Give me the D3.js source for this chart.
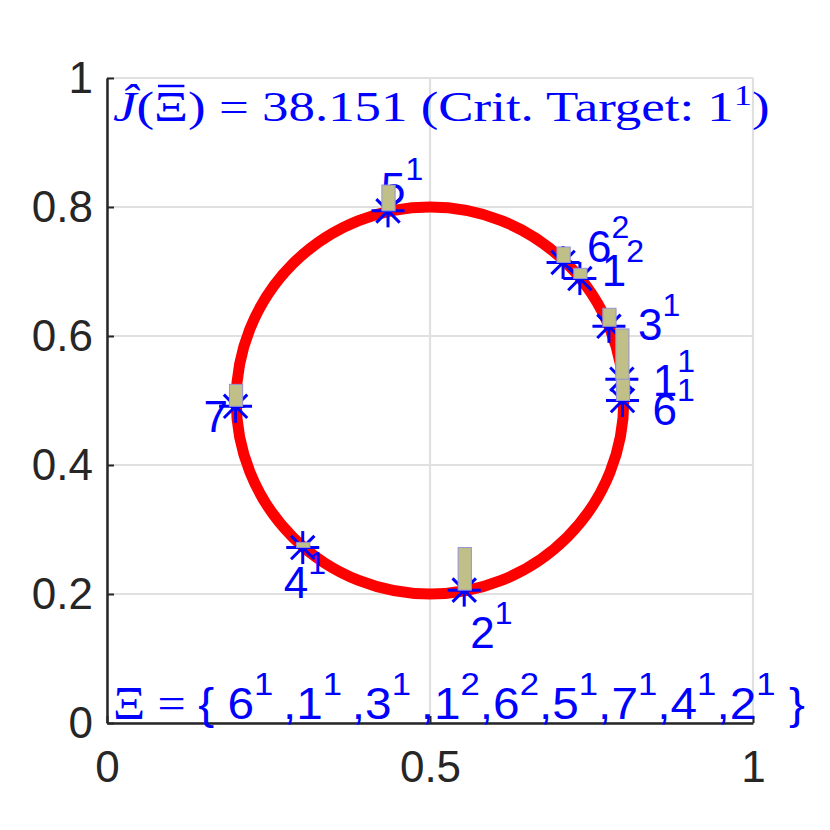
<!DOCTYPE html>
<html><head><meta charset="utf-8">
<script src="https://cdn.jsdelivr.net/npm/d3@7"></script>
<style>body{margin:0;background:#fff}</style>
</head><body>
<script>
// ---- data ----
const pointNames   = ["6","1","3","1","6","5","7","4","2"];
const pointSupers  = ["1","1","1","2","2","1","1","1","1"];
const pointX       = [0.798,0.797,0.777,0.732,0.706,0.435,0.199,0.303,0.553];
const pointY       = [0.500,0.533,0.615,0.689,0.714,0.794,0.491,0.272,0.206];
const barHeights   = [0.034,0.078,0.028,0.016,0.024,0.040,0.034,0.008,0.066];
const circleCenter = [0.5,0.5];
const circleRadius = 0.3;
const xTickVals = [0,0.5,1];
const xTickLabels = ["0","0.5","1"];
const yTickVals = [0,0.2,0.4,0.6,0.8,1];
const yTickLabels = ["0","0.2","0.4","0.6","0.8","1"];
const critValue = "38.151";
const critTarget = ["1","1"];
// label placement offsets in pixels (layout)
const labelOffsets = [[30,24],[31,17],[29,14],[22,7],[24,0],[-7,-7],[-32,26],[-19,50],[6,58]];

// ---- layout ----
const W=830,H=830;
const svg=d3.select("body").append("svg").attr("width",W).attr("height",H);
const x=d3.scaleLinear([0,1],[107,753]);
const y=d3.scaleLinear([0,1],[723,78]);
const sans="'Liberation Sans', Arial, Helvetica, sans-serif";
const serif="'Liberation Serif','DejaVu Serif', serif";

// grid
const g=svg.append("g");
g.selectAll(".gx").data(xTickVals).join("line")
 .attr("x1",d=>x(d)).attr("x2",d=>x(d)).attr("y1",y(0)).attr("y2",y(1))
 .attr("stroke","#e0e0e0").attr("stroke-width",2.2);
g.selectAll(".gy").data(yTickVals).join("line")
 .attr("y1",d=>y(d)).attr("y2",d=>y(d)).attr("x1",x(0)).attr("x2",x(1))
 .attr("stroke","#e0e0e0").attr("stroke-width",2.2);

// axes
const axisColor="#262626";
const xa=svg.append("g").attr("transform",`translate(0,${y(0)})`)
  .call(d3.axisBottom(x).tickValues(xTickVals).tickFormat((d,i)=>xTickLabels[i]).tickSizeInner(-7).tickSizeOuter(0).tickPadding(28));
const ya=svg.append("g").attr("transform",`translate(${x(0)},0)`)
  .call(d3.axisLeft(y).tickValues(yTickVals).tickFormat((d,i)=>yTickLabels[i]).tickSizeInner(-7).tickSizeOuter(0).tickPadding(14));
[xa,ya].forEach(a=>{
  a.select(".domain").attr("stroke",axisColor).attr("stroke-width",2.5);
  a.selectAll(".tick line").attr("stroke",axisColor).attr("stroke-width",2);
  a.selectAll(".tick text").attr("fill",axisColor).style("font-family",sans).style("font-size","44px");
});
xa.selectAll(".tick text").attr("dy","0.71em");

// circle
svg.append("ellipse")
 .attr("cx",x(circleCenter[0])).attr("cy",y(circleCenter[1]))
 .attr("rx",x(circleCenter[0]+circleRadius)-x(circleCenter[0]))
 .attr("ry",y(circleCenter[1])-y(circleCenter[1]+circleRadius))
 .attr("fill","none").attr("stroke","#ff0000").attr("stroke-width",11);

const pts=pointX.map((px,i)=>({x:px,y:pointY[i],h:barHeights[i],n:pointNames[i],s:pointSupers[i],o:labelOffsets[i]}));

// star markers
const R=16.5, Rd=11.7;
const stars=svg.append("g").attr("stroke","#0000ff").attr("stroke-width",3);
pts.forEach(p=>{
  const cx=x(p.x), cy=y(p.y);
  [[R,0],[0,R],[Rd,Rd],[Rd,-Rd]].forEach(([dx,dy])=>{
    stars.append("line").attr("x1",cx-dx).attr("y1",cy-dy).attr("x2",cx+dx).attr("y2",cy+dy);
  });
});

// labels
const labs=svg.append("g").attr("fill","#0000ff").style("font-family",sans);
pts.forEach(p=>{
  const t=labs.append("text").attr("x",x(p.x)+p.o[0]).attr("y",y(p.y)+p.o[1]).style("font-size","44px");
  t.append("tspan").text(p.n);
  t.append("tspan").attr("dy",-24).style("font-size","32px").text(p.s);
});

// bars
const bw=0.0205;
svg.append("g").selectAll("rect").data(pts).join("rect")
 .attr("x",d=>x(d.x-bw/2)+0.5).attr("width",d=>x(bw)-x(0))
 .attr("y",d=>y(d.y+d.h)).attr("height",d=>y(d.y)-y(d.y+d.h))
 .attr("fill","#bfbf87").attr("stroke","#9393d6").attr("stroke-width",1);

// title text (top)
const tg=svg.append("g");
const tt=tg.append("text").attr("x",113).attr("y",121).attr("fill","#0000ff")
  .style("font-family",serif).style("font-size","42px");
tt.append("tspan").style("font-style","italic").text("Ĵ");
tt.append("tspan").text("(");
const xiSpan=tt.append("tspan").text("Ξ");
tt.append("tspan").text(") = "+critValue+" (Crit.  Target:  "+critTarget[0]);
tt.append("tspan").attr("dy",-16).style("font-size","29px").text(critTarget[1]);
tt.append("tspan").attr("dy",16).text(")");
{
  const xi=tt.node().getExtentOfChar(2);
  tg.append("line").attr("x1",xi.x+3).attr("x2",xi.x+xi.width-3).attr("y1",xi.y+2).attr("y2",xi.y+2)
    .attr("stroke","#0000ff").attr("stroke-width",2.5);
  const bb=tt.node().getBBox();
  tg.attr("transform",`translate(113,0) scale(${657/bb.width},1) translate(${-113},0)`);
}

// bottom text
const bt=svg.append("text").attr("x",113).attr("y",719).attr("fill","#0000ff").style("font-size","44px");
bt.append("tspan").style("font-family",serif).style("font-size","46px").text("Ξ = ");
bt.append("tspan").style("font-family",sans).text("{ ");
pts.forEach((p,i)=>{
  bt.append("tspan").style("font-family",sans).attr("dy",i===0?0:24).text((i===0?"":",")+p.n);
  bt.append("tspan").style("font-family",sans).attr("dy",-24).style("font-size","32px").text(p.s+(i<3?" ":""));
});
bt.append("tspan").style("font-family",sans).attr("dy",24).text(" }");
{ const bb=bt.node().getBBox(); bt.attr("transform",`translate(113,0) scale(${692/bb.width},1) translate(${-113},0)`); }
</script>
</body></html>
